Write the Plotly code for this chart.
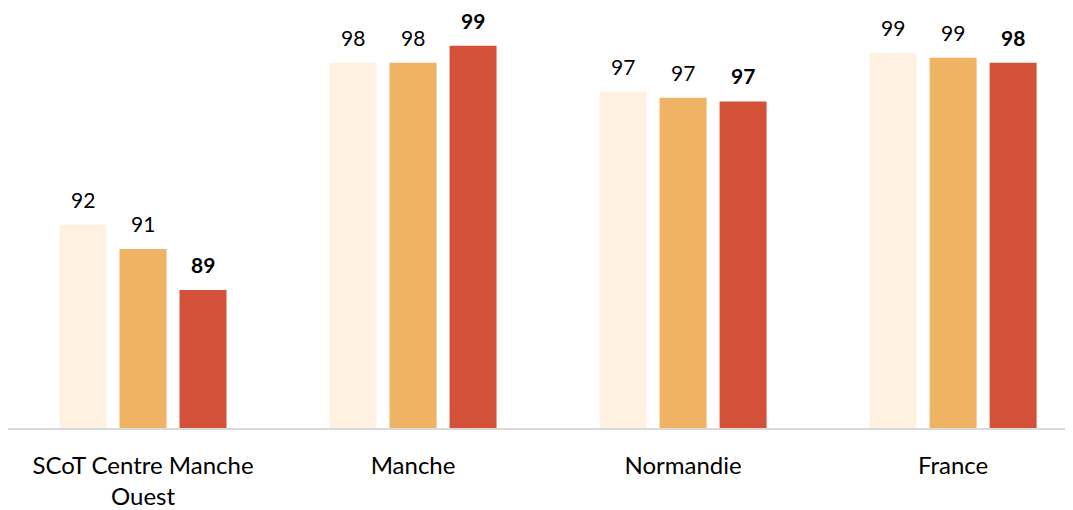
import plotly.graph_objects as go

# catégories et valeurs
categories = ["SCoT Centre Manche<br>Ouest", "Manche", "Normandie", "France"]
serie_1 = [91.7, 98.4, 97.2, 98.8]
serie_2 = [90.7, 98.4, 96.95, 98.6]
serie_3 = [89.0, 99.1, 96.8, 98.4]

noms = ["Série 1", "Série 2", "Série 3"]
couleurs = ["#FEF1E2", "#F0B263", "#D45139"]
series = [serie_1, serie_2, serie_3]

BARGAP = 1 / 3
N = len(series)

fig = go.Figure()
for nom, vals, couleur in zip(noms, series, couleurs):
    fig.add_trace(
        go.Bar(
            x=categories,
            y=vals,
            name=nom,
            marker=dict(color=couleur, line=dict(width=0)),
        )
    )

# étiquettes de données (la dernière série en gras)
slot = (1 - BARGAP) / N
for i, vals in enumerate(series):
    offset = (i - (N - 1) / 2) * slot
    for j, v in enumerate(vals):
        txt = f"{round(v):d}"
        if i == N - 1:
            txt = f"<b>{txt}</b>"
        fig.add_annotation(
            x=j + offset,
            y=v,
            xref="x",
            yref="y",
            text=txt,
            showarrow=False,
            yanchor="bottom",
            yshift=11,
            font=dict(size=21, color="#000000"),
        )

# la page html ajoute 8px de marge autour de la figure
fig.update_layout(
    width=1065,
    height=502,
    margin=dict(l=0, r=0, t=16, b=73),
    paper_bgcolor="white",
    plot_bgcolor="white",
    barmode="group",
    bargap=BARGAP,
    bargroupgap=0.217,
    showlegend=False,
    font=dict(family="Lato, Carlito, sans-serif", size=21, color="#000000"),
)

fig.update_xaxes(
    range=[-0.5, 3.444],
    showline=True,
    linecolor="#D9D9D9",
    linewidth=2,
    showgrid=False,
    ticks="",
    ticklabelstandoff=15,
    tickfont=dict(size=24),
)
fig.update_yaxes(
    range=[83.3, 100],
    visible=False,
    showgrid=False,
)

fig.write_html("out.html")
